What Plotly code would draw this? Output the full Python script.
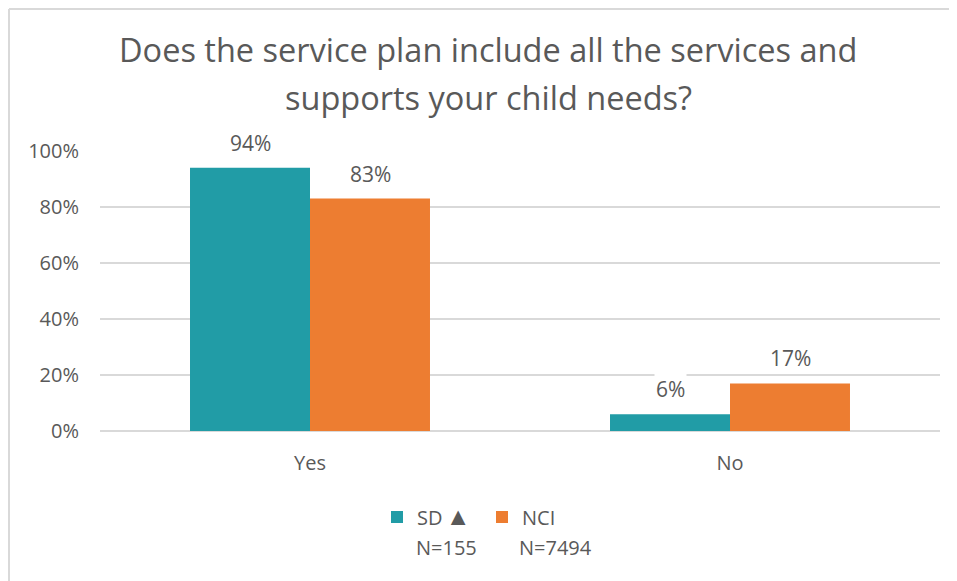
import plotly.graph_objects as go

categories = ["Yes", "No"]
sd_values = [0.94, 0.06]
nci_values = [0.83, 0.17]
series_names = ["SD\u2009<span style='font-size:25px'>▲</span>", "NCI"]
series_n = ["N=155", "N=7494"]
title_lines = ["Does the service plan include all the services and",
               "supports your child needs?"]

TEAL = "#219CA6"
ORANGE = "#ED7D31"
TXT = "#595959"
FONT = "Open Sans"

# page offset compensation (browser body margin ~8px)
OFF = 8
PL, PR, PT, PB = 100, 940, 151, 431  # plot area in screenshot pixels
PW, PH = PR - PL, PB - PT

fig = go.Figure()
fig.add_trace(go.Bar(x=categories, y=sd_values, name=series_names[0],
                     marker=dict(color=TEAL, line=dict(width=0)), hoverinfo="skip"))
fig.add_trace(go.Bar(x=categories, y=nci_values, name=series_names[1],
                     marker=dict(color=ORANGE, line=dict(width=0)), hoverinfo="skip"))

annotations = []
for vals, shift in [(sd_values, -60), (nci_values, 60)]:
    for c, v in zip(categories, vals):
        annotations.append(dict(x=c, y=v, xref="x", yref="y", text=f"{round(v*100)}%",
                                showarrow=False, xshift=shift, yshift=9, yanchor="bottom",
                                bgcolor="white", font=dict(family=FONT, size=21, color=TXT)))

# title as two lines
for txt, py in zip(title_lines, [50, 97]):
    annotations.append(dict(text=txt, x=(488 - PL) / PW, y=(PB - py) / PH,
                            xref="paper", yref="paper",
                            showarrow=False, xanchor="center", yanchor="middle",
                            font=dict(family=FONT, size=32.5, color=TXT)))

# N= lines under legend entries
for txt, px in zip(series_n, [414, 517]):
    annotations.append(dict(text=txt, x=(px - PL) / PW, y=(PB - 547) / PH,
                            xref="paper", yref="paper", showarrow=False,
                            xanchor="left", yanchor="middle",
                            font=dict(family=FONT, size=20, color=TXT)))

fig.update_layout(
    width=957, height=581,
    margin=dict(l=PL - OFF, r=957 - (PR - OFF), t=PT - OFF, b=581 - (PB - OFF)),
    paper_bgcolor="white", plot_bgcolor="white",
    barmode="group", bargap=0.4286, bargroupgap=0,
    font=dict(family=FONT, color=TXT, size=20),
    showlegend=True,
    legend=dict(orientation="h", x=(377 - PL) / PW, xanchor="left",
                y=(PB - 517) / PH, yanchor="middle",
                font=dict(family=FONT, size=20, color=TXT),
                entrywidth=60, itemwidth=30, traceorder="normal"),
    xaxis=dict(showgrid=False, showline=False, zeroline=False, ticks="",
               tickfont=dict(family=FONT, size=20, color=TXT), ticklabelstandoff=18),
    yaxis=dict(range=[0, 1], dtick=0.2, tickformat=".0%", showgrid=True,
               gridcolor="#D9D9D9", gridwidth=1.5, zeroline=True, zerolinecolor="#D9D9D9",
               zerolinewidth=1.5, showline=False, ticks="",
               tickfont=dict(family=FONT, size=20, color=TXT), ticklabelstandoff=20),
    annotations=annotations,
    shapes=[
        dict(type="line", xref="paper", yref="paper", x0=(OFF + 1 - PL) / PW, x1=(970 - PL) / PW,
             y0=(PB - OFF - 1) / PH, y1=(PB - OFF - 1) / PH, line=dict(color="#D9D9D9", width=2)),
        dict(type="line", xref="paper", yref="paper", x0=(OFF + 1 - PL) / PW, x1=(OFF + 1 - PL) / PW,
             y0=(PB - OFF - 1) / PH, y1=(PB - 600) / PH, line=dict(color="#D9D9D9", width=2)),
    ],
)

fig.write_html("out.html")
